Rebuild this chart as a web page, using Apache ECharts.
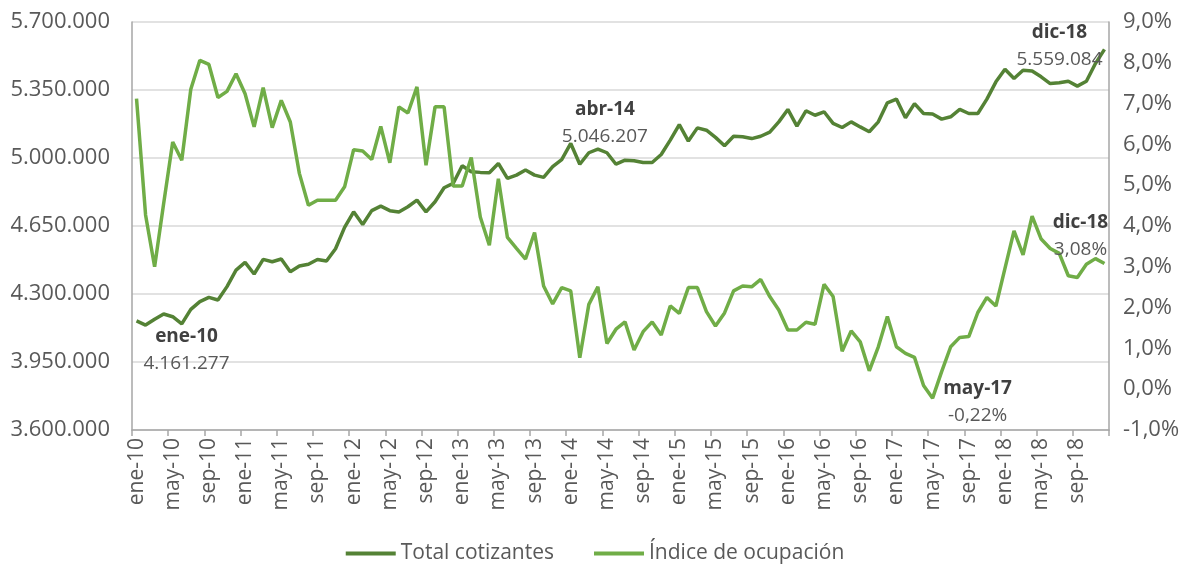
<!DOCTYPE html>
<html>
<head>
<meta charset="utf-8">
<script src="https://cdn.jsdelivr.net/npm/echarts@6/dist/echarts.min.js"></script>
</head>
<body style="margin:0">
<div id="myChart" style="width:1190px;height:569px"></div>
<script>
// meses ene-10 ... dic-18
var nombresMes = ['ene', 'feb', 'mar', 'abr', 'may', 'jun', 'jul', 'ago', 'sep', 'oct', 'nov', 'dic']
var anios = ['10', '11', '12', '13', '14', '15', '16', '17', '18']

var meses = []
anios.forEach(function (a) {
  nombresMes.forEach(function (m) { meses.push(m + '-' + a) })
})

var cotizantes = [
  4161277, 4140000, 4170000, 4197000, 4183000, 4146000, 4221000, 4261000, 4283000, 4269000, 4338000, 4423000,
  4463000, 4403000, 4478000, 4466000, 4480000, 4415000, 4444000, 4453000, 4478000, 4470000, 4533000, 4643000,
  4723000, 4658000, 4729000, 4752000, 4729000, 4722000, 4749000, 4783000, 4723000, 4775000, 4847000, 4869000,
  4960000, 4929000, 4926000, 4924000, 4972000, 4895000, 4912000, 4938000, 4912000, 4900000, 4955000, 4992000,
  5075000, 4968000, 5027000, 5046207, 5027000, 4968000, 4989000, 4986000, 4977000, 4977000, 5018000, 5092000,
  5172000, 5087000, 5155000, 5143000, 5106000, 5063000, 5112000, 5109000, 5100000, 5112000, 5133000, 5186000,
  5250000, 5164000, 5243000, 5220000, 5238000, 5178000, 5157000, 5186000, 5160000, 5135000, 5186000, 5284000,
  5303000, 5207000, 5280000, 5229000, 5226000, 5200000, 5212000, 5250000, 5229000, 5229000, 5303000, 5392000,
  5457000, 5409000, 5452000, 5448000, 5418000, 5383000, 5387000, 5395000, 5370000, 5395000, 5486000, 5559084
]

var indiceOcupacion = [
  7.12, 4.27, 3.00, 4.55, 6.06, 5.61, 7.35, 8.06, 7.96, 7.15, 7.30, 7.73,
  7.24, 6.43, 7.39, 6.41, 7.08, 6.55, 5.29, 4.51, 4.63, 4.63, 4.63, 4.96,
  5.87, 5.84, 5.63, 6.44, 5.55, 6.92, 6.77, 7.41, 5.49, 6.92, 6.92, 4.98,
  4.98, 5.68, 4.22, 3.53, 5.16, 3.72, 3.45, 3.19, 3.84, 2.53, 2.09, 2.49,
  2.41, 0.77, 2.08, 2.51, 1.12, 1.47, 1.65, 0.96, 1.41, 1.65, 1.33, 2.04,
  1.86, 2.49, 2.49, 1.90, 1.55, 1.87, 2.41, 2.53, 2.51, 2.69, 2.27, 1.94,
  1.45, 1.45, 1.64, 1.59, 2.57, 2.27, 0.93, 1.43, 1.16, 0.45, 1.04, 1.78,
  1.04, 0.88, 0.78, 0.09, -0.22, 0.43, 1.04, 1.27, 1.29, 1.88, 2.25, 2.04,
  2.96, 3.88, 3.29, 4.24, 3.68, 3.45, 3.33, 2.78, 2.74, 3.06, 3.20, 3.08
]

// meses con etiqueta
var notasCotizantes = ['ene-10', 'abr-14', 'dic-18']
var notasIndice = ['may-17', 'dic-18']

var offsets = {
  cot: {'ene-10': [50, 29], 'abr-14': [7, -26], 'dic-18': [-45, -3]},
  ind: {'may-17': [45, 4], 'dic-18': [-24, -27]}
}

function puntos (n) {
  return String(Math.round(n)).replace(/\B(?=(\d{3})+(?!\d))/g, '.')
}

function pct (v, dec) {
  return v.toFixed(dec).replace('.', ',') + '%'
}

var rich = {
  b: {fontWeight: 'bold', fontSize: 19, color: '#404040', lineHeight: 27, fontFamily: 'Open Sans'},
  v: {fontSize: 19, color: '#595959', lineHeight: 27, fontFamily: 'Open Sans'}
}

function conEtiquetas (valores, notas, offs, fmt) {
  return valores.map(function (v, i) {
    var mes = meses[i]
    if (notas.indexOf(mes) < 0) return v
    return {
      value: v,
      label: {
        show: true,
        position: 'inside',
        offset: offs[mes],
        formatter: '{b|' + mes + '}\n{v|' + fmt(v) + '}',
        rich: rich
      }
    }
  })
}

var myChart = echarts.init(document.getElementById('myChart'))

var options = {
  animation: false,
  color: ['#548235', '#70AD47'],
  textStyle: {fontFamily: 'Open Sans'},
  grid: {left: 132, right: 81, top: 22, bottom: 139, containLabel: false},
  legend: {
    bottom: 0,
    left: 'center',
    icon: 'rect',
    itemWidth: 50,
    itemHeight: 4,
    itemGap: 40,
    textStyle: {fontSize: 21, color: '#595959'},
    data: ['Total cotizantes', 'Índice de ocupación']
  },
  xAxis: {
    type: 'category',
    boundaryGap: true,
    data: meses,
    axisLine: {onZero: false, lineStyle: {color: '#a6a6a6', width: 1.5}},
    axisTick: {show: true, interval: 3, length: 6, lineStyle: {color: '#a6a6a6', width: 1.5}},
    axisLabel: {interval: 3, rotate: 90, fontSize: 21, color: '#595959', margin: 8},
    splitLine: {show: false}
  },
  yAxis: [{
    type: 'value',
    min: 3600000,
    max: 5700000,
    interval: 350000,
    axisLine: {show: true, lineStyle: {color: '#a6a6a6', width: 1.5}},
    axisTick: {show: false},
    axisLabel: {formatter: puntos, fontSize: 22, color: '#595959', margin: 22},
    splitLine: {show: true, lineStyle: {color: '#d9d9d9', width: 1.5}}
  }, {
    type: 'value',
    position: 'right',
    min: -1,
    max: 9,
    interval: 1,
    axisLine: {show: true, lineStyle: {color: '#a6a6a6', width: 1.5}},
    axisTick: {show: false},
    axisLabel: {formatter: function (v) { return pct(v, 1) }, fontSize: 22, color: '#595959', margin: 14},
    splitLine: {show: false}
  }],
  series: [{
    name: 'Total cotizantes',
    type: 'line',
    yAxisIndex: 0,
    data: conEtiquetas(cotizantes, notasCotizantes, offsets.cot, puntos),
    symbol: 'circle',
    symbolSize: 0,
    showSymbol: true,
    showAllSymbol: true,
    lineStyle: {width: 3.5, color: '#548235'},
    itemStyle: {color: '#548235'},
    emphasis: {disabled: true}
  }, {
    name: 'Índice de ocupación',
    type: 'line',
    yAxisIndex: 1,
    data: conEtiquetas(indiceOcupacion, notasIndice, offsets.ind, function (v) { return pct(v, 2) }),
    symbol: 'circle',
    symbolSize: 0,
    showSymbol: true,
    showAllSymbol: true,
    lineStyle: {width: 3.5, color: '#70AD47'},
    itemStyle: {color: '#70AD47'},
    emphasis: {disabled: true}
  }]
}

myChart.setOption(options)
</script>
</body>
</html>
